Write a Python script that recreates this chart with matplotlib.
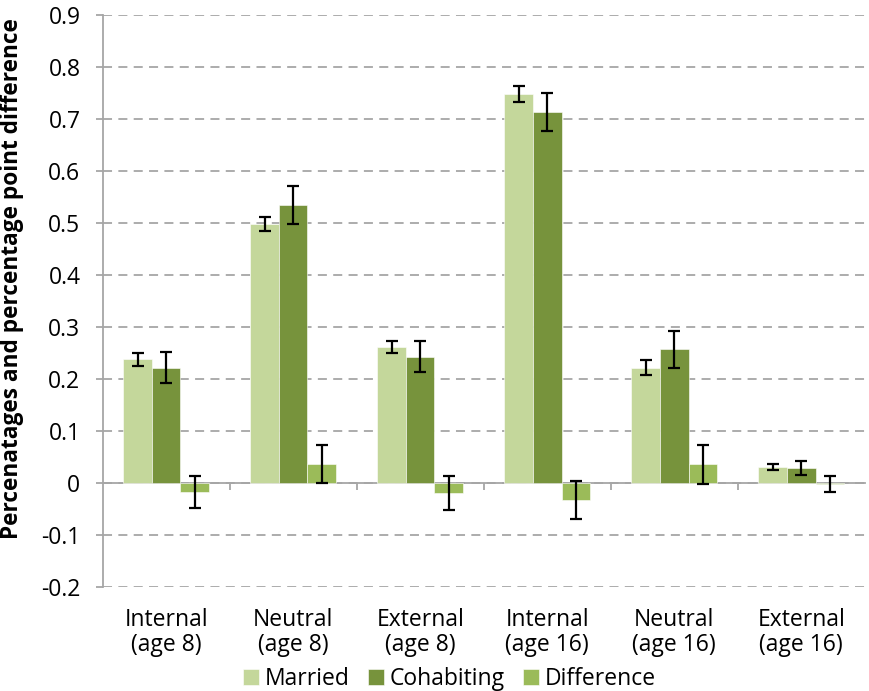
import numpy as np
import matplotlib
matplotlib.use("Agg")
import matplotlib.pyplot as plt
import matplotlib.transforms as mtransforms

plt.rcParams['font.family'] = ['Open Sans', 'DejaVu Sans']

categories = ["Internal\n(age 8)", "Neutral\n(age 8)", "External\n(age 8)",
              "Internal\n(age 16)", "Neutral\n(age 16)", "External\n(age 16)"]
series_names = ["Married", "Cohabiting", "Difference"]

married = [0.238, 0.498, 0.262, 0.748, 0.222, 0.031]
married_err = [0.012, 0.014, 0.011, 0.015, 0.014, 0.0065]
cohabiting = [0.222, 0.535, 0.243, 0.714, 0.257, 0.029]
cohabiting_err = [0.030, 0.036, 0.030, 0.037, 0.036, 0.014]
difference = [-0.017, 0.037, -0.019, -0.033, 0.036, -0.002]
difference_err = [0.031, 0.037, 0.033, 0.037, 0.0375, 0.016]

colors = ["#C4D79B", "#77933C", "#9BBB59"]

fig = plt.figure(figsize=(8.7, 6.91), dpi=100)
ax = fig.add_axes([0.118, 0.1505, 0.876, 0.8275])

x = np.arange(len(categories))
w = 0.225
data = [(married, married_err), (cohabiting, cohabiting_err), (difference, difference_err)]
for i, (vals, errs) in enumerate(data):
    ax.bar(x + (i - 1) * w, vals, w, color=colors[i], label=series_names[i],
           edgecolor="white", linewidth=0.4, zorder=3)
    ax.errorbar(x + (i - 1) * w, vals, yerr=errs, fmt="none", ecolor="black",
                elinewidth=1.6, capsize=4.3, capthick=1.6, zorder=4)

ax.set_xlim(-0.5, len(categories) - 0.5)
ax.set_ylim(-0.2, 0.9)
ax.set_yticks(np.arange(-0.2, 0.91, 0.1))
ax.set_yticklabels(["-0.2", "-0.1", "0", "0.1", "0.2", "0.3", "0.4", "0.5",
                    "0.6", "0.7", "0.8", "0.9"], fontsize=16.5)
ax.yaxis.grid(True, linestyle=(0, (5, 3.5)), color="#A6A6A6", linewidth=1.3, zorder=0)

for s in ["top", "right"]:
    ax.spines[s].set_visible(False)
ax.spines["left"].set_color("#A6A6A6")
ax.spines["left"].set_linewidth(1.3)
ax.spines["bottom"].set_position(("data", 0))
ax.spines["bottom"].set_color("#A6A6A6")
ax.spines["bottom"].set_linewidth(1.3)
ax.tick_params(axis="y", color="#A6A6A6", length=5, width=1.3, pad=11)

# tick marks between groups, labels placed under the plot area
ax.set_xticks(x[:-1] + 0.5)
ax.set_xticklabels([])
ax.tick_params(axis="x", color="#A6A6A6", length=5, width=1.3, direction="out")
trans = mtransforms.blended_transform_factory(ax.transData, ax.transAxes)
for xi, lab in zip(x, categories):
    ax.text(xi, -0.036, lab, transform=trans, ha="center", va="top",
            fontsize=16.5, linespacing=1.1)

ax.set_ylabel("Percenatages and percentage point difference", fontsize=16.3,
              fontweight="bold")
ax.yaxis.set_label_coords(-0.103, 0.54)

fig.legend(loc="lower center", bbox_to_anchor=(0.517, -0.03), ncol=3, frameon=False,
           fontsize=16.5, handlelength=0.7, handleheight=0.7, handletextpad=0.25,
           columnspacing=0.8)

fig.savefig("out.png", dpi=100)
